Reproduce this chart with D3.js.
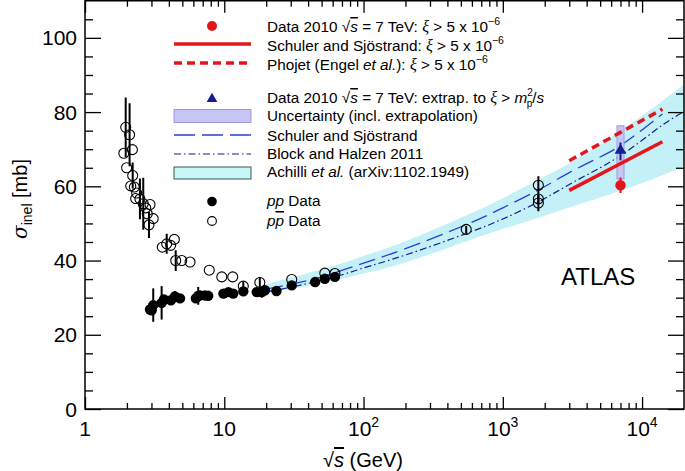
<!DOCTYPE html>
<html><head><meta charset="utf-8">
<script src="https://cdn.jsdelivr.net/npm/d3@7"></script>
<style>
body{margin:0;background:#fff;}
text{font-family:"Liberation Sans",Arial,Helvetica,sans-serif;fill:#000;}
</style></head>
<body><svg id="c" width="685" height="471"></svg>
<script>
// ---------------- data ----------------
const xMajor = [1, 10, 100, 1000, 10000];
const xTickBase = ["1", "10", "10", "10", "10"];
const xTickExp = ["", "", "2", "3", "4"];
const yMajor = [0, 20, 40, 60, 80, 100];

// p-pbar data (open circles)
const ppbarX = [1.90,1.96,1.99,2.09,2.13,2.19,2.20,2.26,2.31,2.35,2.48,2.62,2.73,2.80,2.88,2.93,3.09,3.59,3.86,4.12,4.38,4.48,4.95,5.68,7.8,9.6,11.5,13.7,18.0,30.5,52.7,62.3,546,1800,1800,1800];
const ppbarY = [68.9,75.9,65.0,73.9,60.1,69.9,62.9,59.8,56.7,58.2,56.6,55.3,54.2,52.6,49.6,55.1,51.3,43.6,44.5,44.1,45.7,40.0,40.0,39.6,37.4,35.6,35.6,33.1,34.1,34.9,36.6,36.5,48.4,60.3,56.6,55.5];
const ppbarErr = [0,8,0,8.5,0,0,3.5,0,0,0,5.5,7,0,0,3.5,0,0,0,2.7,0,0,2.8,0,0,0,0,0,1.2,1.5,0,0,0,1.0,2.4,1.2,2.2];

// p-p data (filled circles)
const ppX = [2.93,3.01,3.09,3.55,3.69,4.14,4.42,4.81,6.25,6.5,6.7,7.25,7.67,9.86,10.7,11.6,13.7,17.1,18.6,19.6,23.7,30.5,44.9,52.7,62.3];
const ppY = [26.8,26.6,28.0,28.6,29.5,29.3,30.3,29.8,29.8,30.5,30.6,30.6,30.5,31.1,31.5,31.1,31.7,31.5,31.5,32.0,31.8,33.3,34.2,35.1,35.6];
const ppErr = [0,0,4.5,4.5,0,0,1.5,0,0,2.4,0,0,0,0,0,0,0,0,1.5,0,0,0,0,0,0];

// Schuler and Sjostrand (blue long dash)
const sasX = [20,30,50,100,200,549,1000,1800,3000,5000,7000,10000,14000];
const sasY = [32.3,33.6,35.6,39.3,43.2,49.7,54.2,59.0,63.7,67.9,71.0,75.2,79.5];
// Block and Halzen 2011 (dash-dot)
const bhX = [20,30,62,100,200,549,1000,1800,3000,5000,7000,10000,14000,20000];
const bhY = [31.6,32.8,35.6,38.0,41.5,47.3,51.2,55.8,60.5,65.0,68.3,72.4,76.5,80.2];
// Achilli et al. band
const achX  = [20,30,62,100,200,549,1000,1800,3000,7000,14000,20000];
const achLo = [31.3,32.3,34.6,36.5,39.5,45.2,48.5,51.5,54.3,58.8,63.0,65.5];
const achHi = [33.6,35.4,38.6,41.2,45.2,52.2,56.8,61.8,66.2,75.0,83.0,87.5];
// xi > 5e-6 predictions
const ssXiX = [3000, 14000], ssXiY = [58.9, 72.0];
const phXiX = [3000, 14000], phXiY = [66.9, 80.8];
// ATLAS data
const atlasX = 7000;
const atlasXi = 60.3, atlasXiErr = 2.1;
const atlasExt = 69.4, atlasExtErr = 2.4, atlasExtLo = 62.0, atlasExtHi = 76.3;

// ---------------- drawing ----------------
const svg = d3.select("#c");
const L = 85, R = 684, T = 0.75, B = 409;
const x = d3.scaleLog().domain([1, 2e4]).range([L, R]);
const y = d3.scaleLinear().domain([0, 110]).range([B, T]);

const RED = "#e4161c", BLUE = "#2b3fd3", NAVY = "#13208f";

svg.append("clipPath").attr("id","clip").append("rect")
  .attr("x",L).attr("y",T).attr("width",R-L).attr("height",B-T);
const plot = svg.append("g").attr("clip-path","url(#clip)");

// band
const band = achX.map((v,i)=>({x:v,lo:achLo[i],hi:achHi[i]}));
plot.append("path").datum(band)
  .attr("d", d3.area().x(d=>x(d.x)).y0(d=>y(d.lo)).y1(d=>y(d.hi)).curve(d3.curveNatural))
  .attr("fill","#c3f1f7");

const line = d3.line().x(d=>x(d[0])).y(d=>y(d[1])).curve(d3.curveNatural);
const zip = (a,b)=>a.map((v,i)=>[v,b[i]]);

plot.append("path").attr("d", line(zip(bhX,bhY))).attr("fill","none")
  .attr("stroke",NAVY).attr("stroke-width",1.2).attr("stroke-dasharray","7,3,1.5,3");
plot.append("path").attr("d", line(zip(sasX,sasY))).attr("fill","none")
  .attr("stroke",BLUE).attr("stroke-width",1.3).attr("stroke-dasharray","17,7");

// ATLAS uncertainty box
plot.append("rect").attr("x",x(atlasX)-3.5).attr("width",7)
  .attr("y",y(atlasExtHi)).attr("height",y(atlasExtLo)-y(atlasExtHi))
  .attr("fill","#c7c5f3").attr("stroke","#9b98e6").attr("stroke-width",1);

plot.append("path").attr("d", line(zip(ssXiX,ssXiY))).attr("fill","none")
  .attr("stroke",RED).attr("stroke-width",3.5);
plot.append("path").attr("d", line(zip(phXiX,phXiY))).attr("fill","none")
  .attr("stroke",RED).attr("stroke-width",3.5).attr("stroke-dasharray","8,5");

// error bars
function errbars(xs, ys, es, color){
  plot.selectAll(null).data(xs.map((v,i)=>({x:v,y:ys[i],e:es[i]})).filter(d=>d.e>0))
    .enter().append("line")
    .attr("x1",d=>x(d.x)).attr("x2",d=>x(d.x))
    .attr("y1",d=>y(d.y-d.e)).attr("y2",d=>y(d.y+d.e))
    .attr("stroke",color).attr("stroke-width",2);
}
errbars(ppbarX, ppbarY, ppbarErr, "#000");
errbars(ppX, ppY, ppErr, "#000");

plot.selectAll(null).data(zip(ppbarX,ppbarY)).enter().append("circle")
  .attr("cx",d=>x(d[0])).attr("cy",d=>y(d[1])).attr("r",5.0)
  .attr("fill","none").attr("stroke","#000").attr("stroke-width",1.1);
plot.selectAll(null).data(zip(ppX,ppY)).enter().append("circle")
  .attr("cx",d=>x(d[0])).attr("cy",d=>y(d[1])).attr("r",5.2)
  .attr("fill","#000");

// ATLAS points
errbars([atlasX],[atlasExt],[atlasExtErr],NAVY);
plot.append("path").attr("d", d3.symbol(d3.symbolTriangle, 60)())
  .attr("transform",`translate(${x(atlasX)},${y(atlasExt)-1})`).attr("fill",NAVY);
errbars([atlasX],[atlasXi],[atlasXiErr],RED);
plot.append("circle").attr("cx",x(atlasX)).attr("cy",y(atlasXi)).attr("r",5.2).attr("fill",RED);

// ---------------- axes ----------------
const xMinor = [];
for (let d = 1; d <= 10000; d *= 10) for (let k = 2; k <= 9; k++) { if (d*k < 1.9e4) xMinor.push(d*k); }
const yMinor = d3.range(5, 110, 5).filter(v => v % 20 !== 0);

function styleAxis(g){ g.select(".domain").remove(); g.selectAll("line").attr("stroke","#000").attr("stroke-width",1.3); g.selectAll("text").remove(); }
svg.append("g").attr("transform",`translate(0,${B})`).call(d3.axisBottom(x).tickValues(xMajor).tickSize(-12).tickFormat("")).call(styleAxis);
svg.append("g").attr("transform",`translate(0,${B})`).call(d3.axisBottom(x).tickValues(xMinor).tickSize(-6).tickFormat("")).call(styleAxis);
svg.append("g").attr("transform",`translate(0,${T})`).call(d3.axisTop(x).tickValues(xMajor).tickSize(-12).tickFormat("")).call(styleAxis);
svg.append("g").attr("transform",`translate(0,${T})`).call(d3.axisTop(x).tickValues(xMinor).tickSize(-6).tickFormat("")).call(styleAxis);
svg.append("g").attr("transform",`translate(${L},0)`).call(d3.axisLeft(y).tickValues(yMajor).tickSize(-16).tickFormat("")).call(styleAxis);
svg.append("g").attr("transform",`translate(${L},0)`).call(d3.axisLeft(y).tickValues(yMinor).tickSize(-8).tickFormat("")).call(styleAxis);
svg.append("g").attr("transform",`translate(${R},0)`).call(d3.axisRight(y).tickValues(yMajor).tickSize(-16).tickFormat("")).call(styleAxis);
svg.append("g").attr("transform",`translate(${R},0)`).call(d3.axisRight(y).tickValues(yMinor).tickSize(-8).tickFormat("")).call(styleAxis);

svg.append("rect").attr("x",L).attr("y",T).attr("width",R-L).attr("height",B-T)
  .attr("fill","none").attr("stroke","#000").attr("stroke-width",1.5);

// tick labels
svg.selectAll(null).data(yMajor).enter().append("text")
  .attr("x",77).attr("y",d=>y(d)).attr("dy","0.36em").attr("text-anchor","end")
  .attr("font-size",21).text(d=>d);
const xt = svg.selectAll(null).data(xMajor).enter().append("text")
  .attr("x",(d)=>x(d)).attr("y",436).attr("text-anchor","middle").attr("font-size",21);
xt.append("tspan").text((d,i)=>xTickBase[i]);
xt.append("tspan").attr("dy",-9).attr("font-size",14).text((d,i)=>xTickExp[i]);

// axis titles
const xtitle = svg.append("text").attr("x",363).attr("y",467).attr("text-anchor","middle").attr("font-size",20);
xtitle.append("tspan").text("√");
xtitle.append("tspan").attr("font-style","italic").attr("text-decoration","overline").text("s");
xtitle.append("tspan").text(" (GeV)");

const ytitle = svg.append("text").attr("transform","translate(27,199) rotate(-90)").attr("text-anchor","middle").attr("font-size",20);
ytitle.append("tspan").attr("font-style","italic").attr("font-family","DejaVu Serif, serif").text("σ");
ytitle.append("tspan").attr("font-size",14).attr("dy",5).text("inel");
ytitle.append("tspan").attr("dy",-5).text(" [mb]");

svg.append("text").attr("x",561).attr("y",285).attr("font-size",24).text("ATLAS");

// ---------------- legend ----------------
const LX0 = 174, LX1 = 251, LM = 212, TX = 267, FS = 15.3;
const lg = svg.append("g");
function ltext(yb, parts){
  const t = lg.append("text").attr("x",TX).attr("y",yb).attr("font-size",FS);
  parts.forEach(p=>{
    const s = t.append("tspan").text(p.t);
    if (p.i) s.attr("font-style","italic");
    if (p.o) s.attr("text-decoration","overline");
    if (p.dy) s.attr("dy",p.dy);
    if (p.dx) s.attr("dx",p.dx);
    if (p.fs) s.attr("font-size",p.fs);
    if (p.f) s.attr("font-family",p.f);
  });
}
const SERIF = "Liberation Serif, Times New Roman, serif";
// row 1
lg.append("circle").attr("cx",LM).attr("cy",26).attr("r",5).attr("fill",RED);
const xiTail = [{t:"ξ",i:1,f:SERIF,fs:16},{t:" > 5 x 10"},{t:"−6",dy:-7,fs:10.5}];
ltext(32,[{t:"Data 2010 √"},{t:"s",i:1,o:1},{t:" = 7 TeV: "}].concat(xiTail));
// row 2
lg.append("line").attr("x1",LX0).attr("x2",LX1).attr("y1",44).attr("y2",44).attr("stroke",RED).attr("stroke-width",3.5);
ltext(51,[{t:"Schuler and Sjöstrand: "}].concat(xiTail));
// row 3
lg.append("line").attr("x1",LX0).attr("x2",LX1).attr("y1",63).attr("y2",63).attr("stroke",RED).attr("stroke-width",3.5).attr("stroke-dasharray","8,5");
ltext(70,[{t:"Phojet (Engel "},{t:"et al.",i:1},{t:"): "}].concat(xiTail));
// row 4
lg.append("path").attr("d", d3.symbol(d3.symbolTriangle, 50)()).attr("transform",`translate(${LM},99)`).attr("fill",NAVY);
ltext(103,[{t:"Data 2010 √"},{t:"s",i:1,o:1},{t:" = 7 TeV: extrap. to  "},{t:"ξ",i:1,f:SERIF,fs:16},{t:" > "},{t:"m",i:1},{t:"2",dy:-7,fs:10},{t:"p",dy:11,dx:-6,fs:10},{t:"/",dy:-4},{t:"s",i:1}]);
// row 5
lg.append("rect").attr("x",LX0).attr("y",109.5).attr("width",LX1-LX0).attr("height",13).attr("fill","#c7c5f3").attr("stroke","#9b98e6");
ltext(121,[{t:"Uncertainty (incl. extrapolation)"}]);
// row 6
lg.append("line").attr("x1",LX0).attr("x2",LX1).attr("y1",135).attr("y2",135).attr("stroke",BLUE).attr("stroke-width",1.3).attr("stroke-dasharray","21,7");
ltext(141,[{t:"Schuler and Sjöstrand"}]);
// row 7
lg.append("line").attr("x1",LX0).attr("x2",LX1).attr("y1",154).attr("y2",154).attr("stroke",NAVY).attr("stroke-width",1.2).attr("stroke-dasharray","7,3,1.5,3");
ltext(159,[{t:"Block and Halzen 2011"}]);
// row 8
lg.append("rect").attr("x",LX0).attr("y",167).attr("width",LX1-LX0).attr("height",12).attr("fill","#c8f7f7").attr("stroke","#3b5757");
ltext(177,[{t:"Achilli "},{t:"et al.",i:1},{t:" (arXiv:1102.1949)"}]);
// row 9
lg.append("circle").attr("cx",LM).attr("cy",201.5).attr("r",4.8).attr("fill","#000");
ltext(206,[{t:"pp",i:1},{t:" Data"}]);
// row 10
lg.append("circle").attr("cx",LM).attr("cy",221).attr("r",4.4).attr("fill","none").attr("stroke","#000").attr("stroke-width",1.1);
ltext(226,[{t:"p",i:1},{t:"p",i:1,o:1},{t:" Data"}]);
</script></body></html>
